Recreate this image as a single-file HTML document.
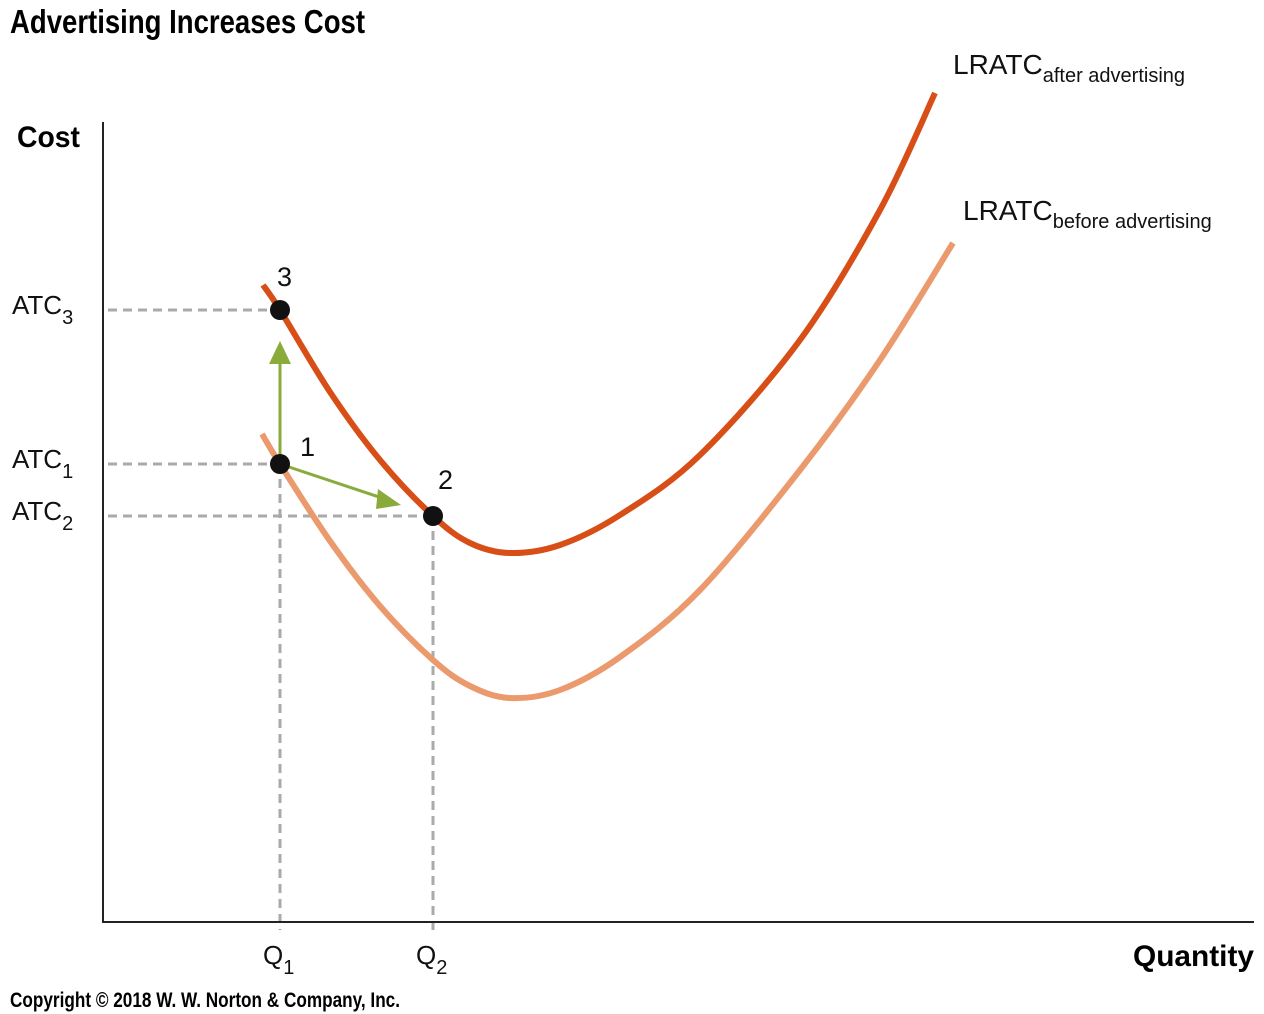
<!DOCTYPE html>
<html><head><meta charset="utf-8"><style>
body{margin:0;background:#fff;width:1264px;height:1014px;overflow:hidden}
svg{display:block}
.t{font-family:"Liberation Sans Narrow","Liberation Sans",sans-serif}
.n{font-family:"Liberation Sans",sans-serif}
</style></head><body>
<svg width="1264" height="1014" id="c">
<text x="10" y="33" class="t" font-size="33" font-weight="bold" textLength="355" lengthAdjust="spacingAndGlyphs">Advertising Increases Cost</text>
<text x="17" y="147" class="t" font-size="30" font-weight="bold" textLength="63" lengthAdjust="spacingAndGlyphs">Cost</text>
<text x="1133" y="966" class="t" font-size="30" font-weight="bold" textLength="121" lengthAdjust="spacingAndGlyphs">Quantity</text>
<text x="10" y="1007" class="t" font-size="21" font-weight="bold" textLength="390" lengthAdjust="spacingAndGlyphs">Copyright © 2018 W. W. Norton &amp; Company, Inc.</text>
<g id="g"></g>
</svg>
<script>
const qAfter=[160,177,227,277,330,367,407,457,517,597,697,777,832];
const cAfter=[637,612,530,462,406,379,369,377,407,467,582,712,829];
const qBefore=[159,177,227,277,330,367,407,457,517,597,697,777,850];
const cBefore=[488,458,381,316,262,236,224,232,265,332,452,562,679];
const pts=[{q:177,c:612,label:"3",lx:-3,ly:-24},{q:177,c:458,label:"1",lx:20,ly:-8},{q:330,c:406,label:"2",lx:5,ly:-27}];
const guides=[{q:177,c:612,t:"ATC",s:"3"},{q:177,c:458,t:"ATC",s:"1"},{q:330,c:406,t:"ATC",s:"2"}];
const qTicks=[{q:177,s:"1"},{q:330,s:"2"}];
const X=q=>103+q, Y=c=>922-c;
const ns="http://www.w3.org/2000/svg", g=document.getElementById('g');
function mk(t,a,p){const e=document.createElementNS(ns,t);for(const k in a)e.setAttribute(k,a[k]);(p||g).appendChild(e);return e;}
function smooth(xs,ys){const P=xs.map((x,i)=>[X(x),Y(ys[i])]);let d=`M${P[0][0]},${P[0][1]}`;for(let i=0;i<P.length-1;i++){const p0=P[i-1]||P[i],p1=P[i],p2=P[i+1],p3=P[i+2]||p2;d+=`C${p1[0]+(p2[0]-p0[0])/6},${p1[1]+(p2[1]-p0[1])/6} ${p2[0]-(p3[0]-p1[0])/6},${p2[1]-(p3[1]-p1[1])/6} ${p2[0]},${p2[1]}`;}return d;}
guides.forEach(o=>{let e=mk('line',{x1:108,y1:Y(o.c),x2:X(o.q),y2:Y(o.c),stroke:'#aaa','stroke-width':3,'stroke-dasharray':'9,6'});

let t=mk('text',{x:12,y:Y(o.c)+4,'font-size':26,class:'n',fill:'#111'});t.innerHTML=o.t+'<tspan dy="10" font-size="20">'+o.s+'</tspan>';
});
qTicks.forEach(o=>{
let e=mk('line',{x1:X(o.q),y1:o.q===177?Y(458):Y(406),x2:X(o.q),y2:930,stroke:'#aaa','stroke-width':3,'stroke-dasharray':'9,6'});

let t=mk('text',{x:X(o.q)-17,y:964,'font-size':26,class:'n',fill:'#111'});t.innerHTML='Q<tspan dy="10" font-size="20">'+o.s+'</tspan>';
});
let ax=mk('path',{d:'M103,122V922H1254',fill:'none',stroke:'#222','stroke-width':2});

let cb=mk('path',{d:smooth(qBefore,cBefore),fill:'none',stroke:'#eb9a6e','stroke-width':6});

let ca=mk('path',{d:smooth(qAfter,cAfter),fill:'none',stroke:'#d84e17','stroke-width':6});

let a1=mk('line',{x1:X(177),y1:Y(458),x2:X(177),y2:Y(458)-100,stroke:'#8aab3c','stroke-width':3});

let h1=mk('polygon',{points:`${X(177)-11},${Y(458)-100} ${X(177)+11},${Y(458)-100} ${X(177)},${Y(458)-123}`,fill:'#8aab3c'});

let a2=mk('line',{x1:X(177),y1:Y(458),x2:385,y2:499,stroke:'#8aab3c','stroke-width':3});

let h2=mk('polygon',{points:'378,489 376,509 401,505',fill:'#8aab3c'});

pts.forEach(p=>{let d=mk('circle',{cx:X(p.q),cy:Y(p.c),r:10,fill:'#111'});

let t=mk('text',{x:X(p.q)+p.lx,y:Y(p.c)+p.ly,'font-size':27,class:'n',fill:'#111'});t.textContent=p.label;
});
let l1=mk('text',{x:953,y:74,'font-size':28,class:'n',fill:'#111'});l1.innerHTML='LRATC<tspan dy="8" font-size="20">after advertising</tspan>';

let l2=mk('text',{x:963,y:220,'font-size':28,class:'n',fill:'#111'});l2.innerHTML='LRATC<tspan dy="8" font-size="20">before advertising</tspan>';

</script>
</body></html>
